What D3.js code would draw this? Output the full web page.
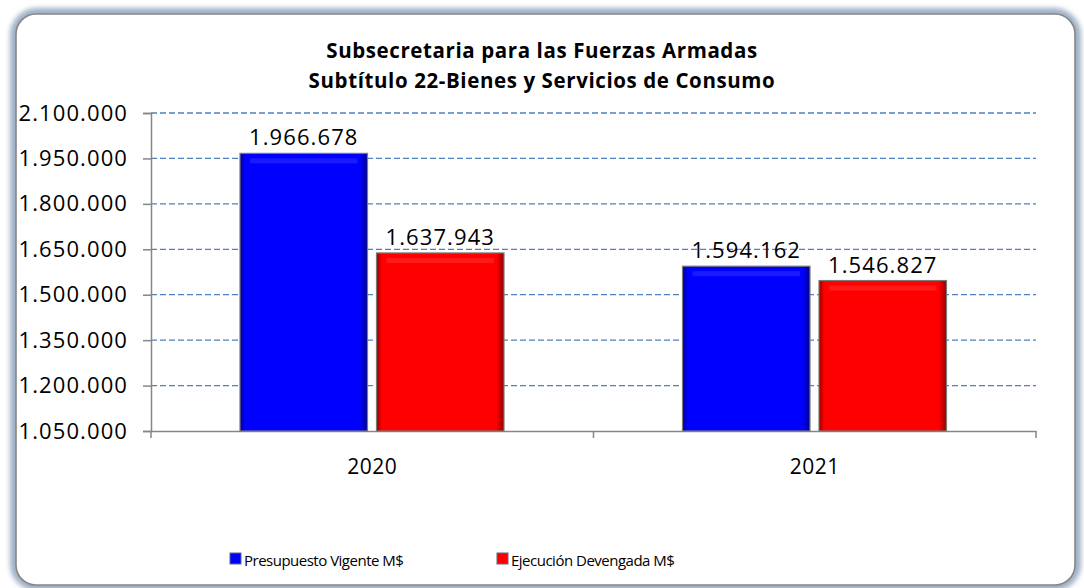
<!DOCTYPE html>
<html><head><meta charset="utf-8">
<script src="https://cdn.jsdelivr.net/npm/d3@7"></script>
<style>
html,body{margin:0;padding:0;background:#fff;}
svg{display:block;font-family:"Open Sans","Noto Sans",sans-serif;}
</style></head>
<body>
<svg id="chart" width="1084" height="588"></svg>
<script>
const titleLines = ["Subsecretaria para las Fuerzas Armadas", "Subtítulo 22-Bienes y Servicios de Consumo"];
const categories = ["2020", "2021"];
const seriesNames = ["Presupuesto Vigente M$", "Ejecución Devengada M$"];
const presupuesto = [1966678, 1594162];
const ejecucion = [1637943, 1546827];
const seriesColors = ["#0000ff", "#ff0000"];
const yTicks = [1050000, 1200000, 1350000, 1500000, 1650000, 1800000, 1950000, 2100000];

const fmt = v => d3.format(",")(v).replace(/,/g, ".");
const svg = d3.select("#chart");
const defs = svg.append("defs");

// frame shadow
const f = defs.append("filter").attr("id","blur").attr("x","-5%").attr("y","-5%").attr("width","110%").attr("height","110%");
f.append("feGaussianBlur").attr("stdDeviation", 2.5);
svg.append("rect").attr("x",15).attr("y",13).attr("width",1061).attr("height",573).attr("rx",22)
  .attr("fill","none").attr("stroke","#9fb0c6").attr("stroke-width",10).attr("filter","url(#blur)");
svg.append("rect").attr("x",16).attr("y",14).attr("width",1059).attr("height",571).attr("rx",20)
  .attr("fill","#fff").attr("stroke","#868686").attr("stroke-width",1.6);

// gradients for bars
seriesColors.forEach((c, i) => {
  const g = defs.append("linearGradient").attr("id","g"+i).attr("x1","0").attr("x2","1").attr("y1","0").attr("y2","0");
  const dark = d3.color(c).darker(1.6);
  g.append("stop").attr("offset","0").attr("stop-color",dark);
  g.append("stop").attr("offset","0.04").attr("stop-color",c);
  g.append("stop").attr("offset","0.94").attr("stop-color",c);
  g.append("stop").attr("offset","1").attr("stop-color",dark);
});

const plot = {left:151, right:1036, top:113, bottom:431};
const y = d3.scaleLinear().domain([1050000, 2100000]).range([plot.bottom, plot.top]);
const x0 = d3.scaleBand().domain(categories).range([plot.left, plot.right]);
const x1 = d3.scaleBand().domain(seriesNames).range([89, 353]).paddingInner(0.066);

// title
svg.append("g").selectAll("text").data(titleLines).join("text")
  .attr("x", 542).attr("y", (d,i) => 58 + i*30)
  .attr("text-anchor","middle").attr("font-weight","bold").attr("font-size",20.5)
  .attr("letter-spacing",0.6).attr("fill","#000")
  .text(d => d);

// gridlines
svg.append("g").selectAll("line").data(yTicks.slice(1)).join("line")
  .attr("x1", plot.left).attr("x2", plot.right)
  .attr("y1", d => y(d)).attr("y2", d => y(d))
  .attr("stroke","#4f81bd").attr("stroke-width",1.3).attr("stroke-dasharray","6,3");

// y axis
const yAxis = svg.append("g").attr("transform",`translate(${plot.left},0)`)
  .call(d3.axisLeft(y).tickValues(yTicks).tickFormat(fmt).tickSize(8).tickPadding(15));
yAxis.select(".domain").attr("stroke","#868686").attr("stroke-width",1.5);
yAxis.selectAll(".tick line").attr("stroke","#868686").attr("stroke-width",1.5);
yAxis.selectAll("text").attr("font-size",22).attr("fill","#000").attr("font-family","'Open Sans',sans-serif").attr("letter-spacing",1.1);

// x axis
const xAxis = svg.append("g").attr("transform",`translate(0,${plot.bottom})`)
  .call(d3.axisBottom(x0).tickSize(0).tickPadding(28));
xAxis.select(".domain").attr("stroke","#868686").attr("stroke-width",1.5);
xAxis.selectAll("text").attr("font-size",21).attr("fill","#000").attr("font-family","'Open Sans',sans-serif").attr("letter-spacing",0.5);
svg.append("g").selectAll("line").data([plot.left, (plot.left+plot.right)/2, plot.right]).join("line")
  .attr("x1", d=>d).attr("x2", d=>d).attr("y1", plot.bottom).attr("y2", plot.bottom+7)
  .attr("stroke","#868686").attr("stroke-width",1.5);

// bars
const rows = categories.map((c,i) => ({cat:c, vals:[presupuesto[i], ejecucion[i]]}));
const groups = svg.append("g").selectAll("g").data(rows).join("g")
  .attr("transform", d => `translate(${x0(d.cat)},0)`);
const bars = groups.selectAll("g").data(d => d.vals.map((v,j) => ({name:seriesNames[j], v, j}))).join("g");
bars.append("rect")
  .attr("x", d => x1(d.name)).attr("y", d => y(d.v))
  .attr("width", x1.bandwidth()).attr("height", d => plot.bottom - y(d.v))
  .attr("fill", d => `url(#g${d.j})`).attr("stroke","#7a7a7a").attr("stroke-width",1.2);
bars.append("rect")
  .attr("x", d => x1(d.name)+10).attr("y", d => y(d.v)+5)
  .attr("width", x1.bandwidth()-20).attr("height", 5)
  .attr("fill","#fff").attr("opacity",0.1);
bars.append("text")
  .attr("x", d => x1(d.name) + x1.bandwidth()/2).attr("y", d => y(d.v) - 8)
  .attr("text-anchor","middle").attr("font-size",22).attr("fill","#000").attr("letter-spacing",1.1)
  .text(d => fmt(d.v));

// legend
const legendX = [230, 497];
const lg = svg.append("g").selectAll("g").data(seriesNames).join("g")
  .attr("transform", (d,i) => `translate(${legendX[i]},559)`);
lg.append("rect").attr("x",0).attr("y",-6).attr("width",11).attr("height",11)
  .attr("fill",(d,i)=>seriesColors[i]).attr("stroke","#5a6b8a").attr("stroke-width",1);
lg.append("text").attr("x",14).attr("y",7).attr("font-size",15).attr("letter-spacing",-0.5).attr("fill","#000").text(d => d);
</script>
</body></html>
